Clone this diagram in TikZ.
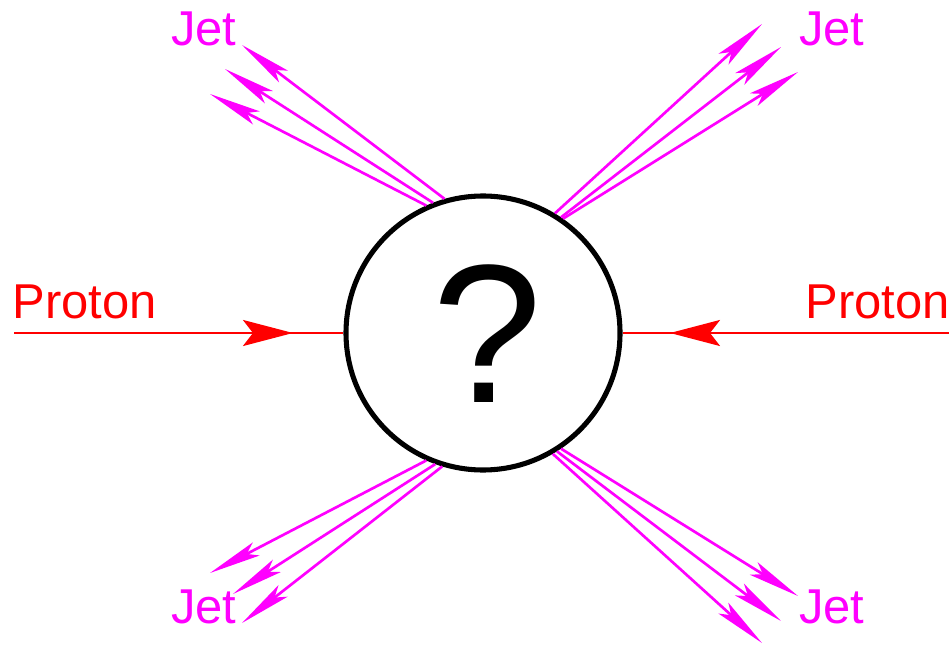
\documentclass[tikz,border=0pt]{standalone}
\usepackage{fontspec}
\setmainfont{Liberation Sans}
\usetikzlibrary{arrows.meta}
\definecolor{jetmag}{RGB}{255,0,255}
\definecolor{protred}{RGB}{255,0,0}
\begin{document}
\begin{tikzpicture}[x=0.75pt,y=-0.75pt,
  jetline/.style={draw=jetmag, line width=2pt, -{Stealth[length=39pt,width=11pt,inset=8pt]}},
  protline/.style={draw=protred, line width=2pt},
  protarrow/.style={draw=protred, line width=2pt, -{Stealth[length=37.5pt,width=19.5pt,inset=7.5pt]}},
  lbl/.style={inner sep=0pt, font=\fontsize{36.7}{40}\selectfont}]
\useasboundingbox (0,0) rectangle (949,645);
\node[circle, draw, line width=3.8pt, minimum size=205.5pt, inner sep=0pt] (c) at (483,333) {};
\node[inner sep=0pt, font=\fontsize{148}{150}\selectfont] (q) at (487,334) {?};
% labels
\node[lbl, text=protred, anchor=base west] (pl) at (12.5,318) {Proton};
\node[lbl, text=protred, anchor=base east] (pr) at (950,318) {Proton};
\node[lbl, text=jetmag, anchor=base west] (jtl) at (171,46) {Jet};
\node[lbl, text=jetmag, anchor=base west] (jtr) at (799,46) {Jet};
\node[lbl, text=jetmag, anchor=base west] (jbl) at (171,623) {Jet};
\node[lbl, text=jetmag, anchor=base west] (jbr) at (799,623) {Jet};
% proton lines
\coordinate (pL) at (14,333);
\coordinate (aL) at (293,333);
\coordinate (pR) at (949,333);
\coordinate (aR) at (670,333);
\draw[protline] (pL) -- (c.west);
\draw[protarrow] (pL) -- (aL);
\draw[protline] (pR) -- (c.east);
\draw[protarrow] (pR) -- (aR);
% jet tips
\coordinate (tl1) at (242,45);
\coordinate (tl2) at (225,69);
\coordinate (tl3) at (210,94);
\coordinate (tr1) at (762,24);
\coordinate (tr2) at (781,47);
\coordinate (tr3) at (798,72);
\coordinate (bl1) at (210,573);
\coordinate (bl2) at (233,594);
\coordinate (bl3) at (242,623);
\coordinate (br1) at (798,596);
\coordinate (br2) at (781,621);
\coordinate (br3) at (762,643);
\draw[jetline] (c.106.6) -- (tl1);
\draw[jetline] (c.111) -- (tl2);
\draw[jetline] (c.114.5) -- (tl3);
\draw[jetline] (c.59.2) -- (tr1);
\draw[jetline] (c.56.9) -- (tr2);
\draw[jetline] (c.55.2) -- (tr3);
\draw[jetline] (c.246.7) -- (bl1);
\draw[jetline] (c.250) -- (bl2);
\draw[jetline] (c.253.1) -- (bl3);
\draw[jetline] (c.304.8) -- (br1);
\draw[jetline] (c.302.9) -- (br2);
\draw[jetline] (c.300.5) -- (br3);
\end{tikzpicture}
\end{document}
